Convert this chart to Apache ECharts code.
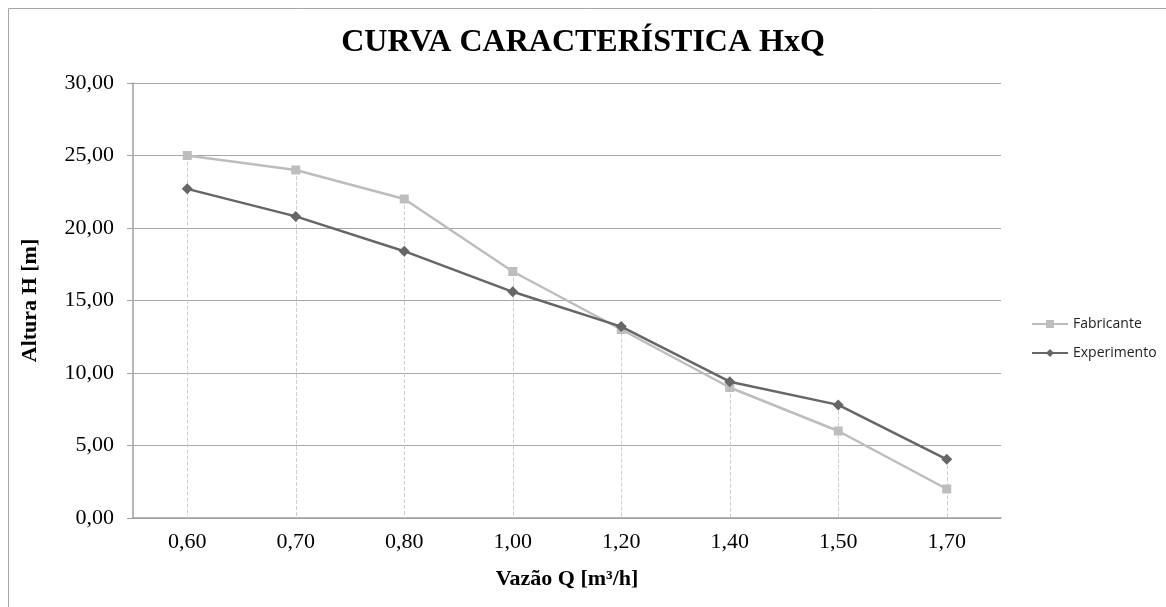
<!DOCTYPE html>
<html>
<head>
<meta charset="utf-8">
<script src="https://cdn.jsdelivr.net/npm/echarts@6/dist/echarts.min.js"></script>
<style>html,body{margin:0;padding:0;background:#fff;}#c{width:1166px;height:607px;}</style>
</head>
<body>
<div id="c"></div>
<script>
const categories = ['0,60','0,70','0,80','1,00','1,20','1,40','1,50','1,70'];
const fabricante = [25, 24, 22, 17, 13, 9, 6, 2];
const experimento = [22.7, 20.8, 18.4, 15.6, 13.2, 9.4, 7.8, 4.05];
const serif = '"Liberation Serif", "DejaVu Serif", serif';
const dropLines = categories.map((c, i) => [
  {coord: [i, Math.max(fabricante[i], experimento[i])]},
  {coord: [i, 0]}
]);
const chart = echarts.init(document.getElementById('c'));
chart.setOption({
  backgroundColor: '#fff',
  animation: false,
  graphic: [{
    type: 'rect', shape: {x: 8.5, y: 8.5, width: 1200, height: 700},
    style: {fill: 'none', stroke: '#a6a6a6', lineWidth: 1}, silent: true
  }],
  title: {
    text: 'CURVA CARACTERÍSTICA HxQ', left: 'center', top: 22,
    textStyle: {fontFamily: serif, fontSize: 32, fontWeight: 'bold', color: '#000'}
  },
  legend: {
    orient: 'vertical', left: 1026, top: 312, itemGap: 14, itemWidth: 36, itemHeight: 10, itemGap: 15,
    textStyle: {fontFamily: '"Open Sans", "Noto Sans", sans-serif', fontSize: 14, color: '#222'},
    data: ['Fabricante', 'Experimento']
  },
  grid: {left: 133, right: 165, top: 83, bottom: 89},
  xAxis: {
    type: 'category', data: categories, boundaryGap: true,
    name: 'Vazão Q [m³/h]', nameLocation: 'middle', nameGap: 50,
    nameTextStyle: {fontFamily: serif, fontSize: 22, fontWeight: 'bold', color: '#000'},
    axisLine: {lineStyle: {color: '#a0a0a0', width: 1.5}},
    axisTick: {show: false},
    axisLabel: {fontFamily: serif, fontSize: 22, color: '#000', margin: 13},
    splitLine: {show: false}
  },
  yAxis: {
    type: 'value', min: 0, max: 30, interval: 5,
    name: 'Altura H [m]', nameLocation: 'middle', nameGap: 92,
    nameTextStyle: {fontFamily: serif, fontSize: 22, fontWeight: 'bold', color: '#000'},
    axisLine: {show: true, lineStyle: {color: '#a0a0a0', width: 1.5}},
    axisTick: {show: true, length: 6, lineStyle: {color: '#a0a0a0'}},
    axisLabel: {fontFamily: serif, fontSize: 22, color: '#000', margin: 19,
      formatter: v => v.toFixed(2).replace('.', ',')},
    splitLine: {lineStyle: {color: '#a6a6a6', width: 1}}
  },
  series: [
    {name: 'Fabricante', type: 'line', data: fabricante, symbol: 'rect', symbolSize: 9, z: 3,
      lineStyle: {color: '#bdbdbd', width: 2.5}, itemStyle: {color: '#bdbdbd'},
      markLine: {silent: true, symbol: 'none', label: {show: false}, z: 1,
        lineStyle: {color: '#cfcfcf', type: 'dashed', width: 1}, data: dropLines}},
    {name: 'Experimento', type: 'line', data: experimento, symbol: 'diamond', symbolSize: 11, z: 4,
      lineStyle: {color: '#666666', width: 2.5}, itemStyle: {color: '#666666'}}
  ]
});
</script>
</body>
</html>
